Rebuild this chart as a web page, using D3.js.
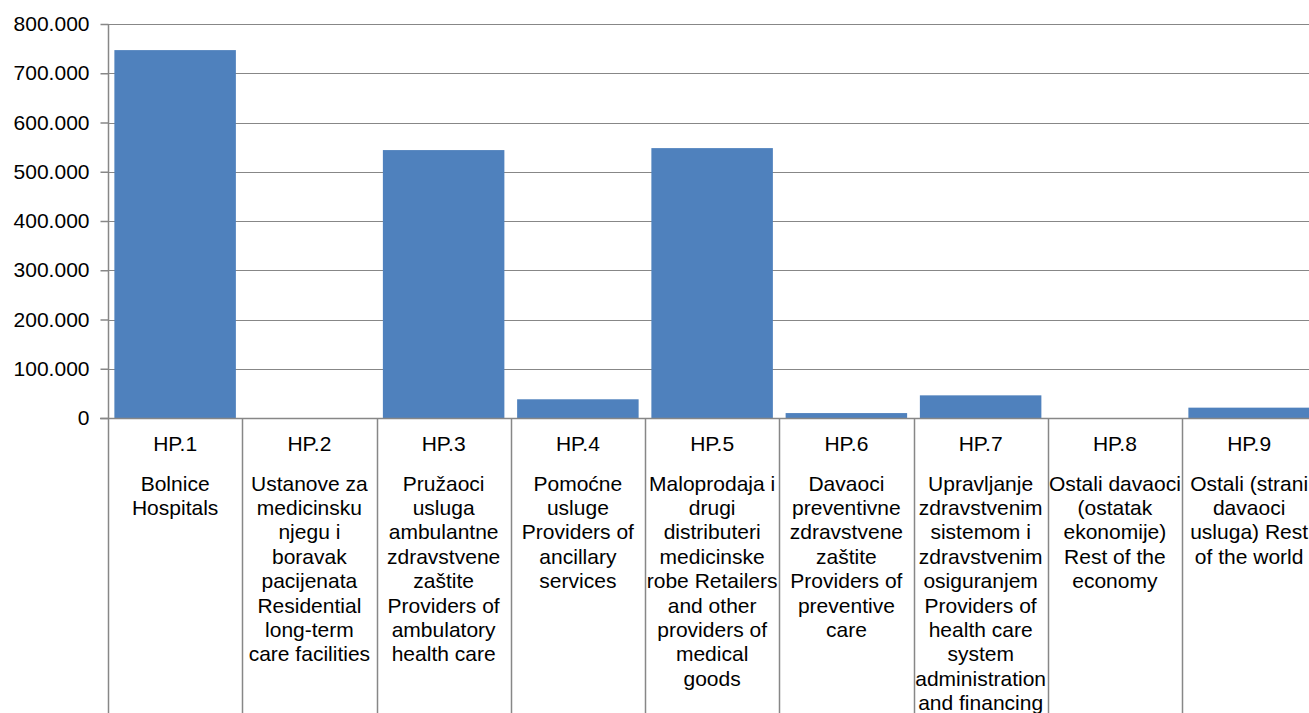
<!DOCTYPE html>
<html>
<head>
<meta charset="utf-8">
<script src="https://cdn.jsdelivr.net/npm/d3@7/dist/d3.min.js"></script>
<style>
  html, body { margin: 0; padding: 0; background: #fff; }
  svg { display: block; }
  text { font-family: "Liberation Sans", Arial, sans-serif; fill: #000; }
</style>
</head>
<body>
<svg id="chart" width="1309" height="713"></svg>
<script>
// ---- data ----
const codes = ["HP.1", "HP.2", "HP.3", "HP.4", "HP.5", "HP.6", "HP.7", "HP.8", "HP.9"];
const values = [747000, 0, 544000, 38000, 548000, 10000, 46000, 0, 21000];
const descriptions = [
  ["Bolnice", "Hospitals"],
  ["Ustanove za", "medicinsku", "njegu i", "boravak", "pacijenata", "Residential", "long-term", "care facilities"],
  ["Pružaoci", "usluga", "ambulantne", "zdravstvene", "zaštite", "Providers of", "ambulatory", "health care"],
  ["Pomoćne", "usluge", "Providers of", "ancillary", "services"],
  ["Maloprodaja i", "drugi", "distributeri", "medicinske", "robe Retailers", "and other", "providers of", "medical", "goods"],
  ["Davaoci", "preventivne", "zdravstvene", "zaštite", "Providers of", "preventive", "care"],
  ["Upravljanje", "zdravstvenim", "sistemom i", "zdravstvenim", "osiguranjem", "Providers of", "health care", "system", "administration", "and financing"],
  ["Ostali davaoci", "(ostatak", "ekonomije)", "Rest of the", "economy"],
  ["Ostali (strani", "davaoci", "usluga) Rest", "of the world"]
];
const yTicks = [0, 100000, 200000, 300000, 400000, 500000, 600000, 700000, 800000];

(function () {
// ---- layout ----
const W = 1309, H = 713;
const mLeft = 108, mTop = 24, zeroY = 418;
const bandW = 134.25;
const mRight = mLeft + bandW * codes.length;
const gridColor = "#878787";
const fontSize = 21;

const svg = d3.select("#chart");
const x = d3.scaleBand().domain(codes).range([mLeft, mRight]).paddingInner(0.095).paddingOuter(0.0475);
const xb = d3.scaleBand().domain(codes).range([mLeft, mRight]);
const y = d3.scaleLinear().domain([0, 800000]).range([zeroY, mTop]);

const loc = d3.formatLocale({decimal: ",", thousands: ".", grouping: [3], currency: ["", ""]});
const fmt = loc.format(",d");

// gridlines
svg.append("g").selectAll("line").data(yTicks.filter(d => d > 0)).join("line")
  .attr("x1", mLeft).attr("x2", W)
  .attr("y1", d => Math.round(y(d)) + 0.5).attr("y2", d => Math.round(y(d)) + 0.5)
  .attr("stroke", gridColor).attr("stroke-width", 1);

// bars
svg.append("g").selectAll("rect").data(codes).join("rect")
  .attr("x", (d) => x(d))
  .attr("width", x.bandwidth())
  .attr("y", (d, i) => y(values[i]))
  .attr("height", (d, i) => zeroY - y(values[i]))
  .attr("fill", "#4F81BD");

// y axis
const yAxis = d3.axisLeft(y).tickValues(yTicks).tickFormat(fmt).tickSize(8).tickPadding(11);
const ya = svg.append("g").attr("transform", `translate(${mLeft + 0.5},0)`).call(yAxis);
ya.select(".domain").remove();
ya.selectAll(".tick line").attr("stroke", gridColor).attr("stroke-width", 1.5);
ya.selectAll(".tick text").attr("font-size", fontSize).attr("fill", "#000")
  .style("font-family", '"Liberation Sans", Arial, sans-serif');

// vertical axis line extending down through label area
svg.append("line").attr("x1", mLeft + 0.5).attr("x2", mLeft + 0.5).attr("y1", mTop).attr("y2", H)
  .attr("stroke", gridColor).attr("stroke-width", 1.5);

// horizontal axis line
svg.append("line").attr("x1", mLeft - 8).attr("x2", W).attr("y1", zeroY + 0.5).attr("y2", zeroY + 0.5)
  .attr("stroke", gridColor).attr("stroke-width", 1.5);

// category dividers
svg.append("g").selectAll("line").data(codes.slice(1)).join("line")
  .attr("x1", d => Math.round(xb(d)) + 0.5).attr("x2", d => Math.round(xb(d)) + 0.5)
  .attr("y1", zeroY).attr("y2", H)
  .attr("stroke", gridColor).attr("stroke-width", 1.5);

// category labels
const lineH = 24.4;
const cat = svg.append("g").selectAll("g").data(codes).join("g")
  .attr("transform", d => `translate(${xb(d) + xb.bandwidth() / 2},0)`);
cat.append("text").attr("text-anchor", "middle").attr("font-size", fontSize)
  .attr("y", 443.5).attr("dy", "0.35em").text(d => d);
cat.each(function(d, i) {
  const t = d3.select(this).append("text").attr("text-anchor", "middle").attr("font-size", fontSize);
  descriptions[i].forEach((ln, k) => {
    t.append("tspan").attr("x", 0).attr("y", 483.3 + k * lineH).attr("dy", "0.35em").text(ln);
  });
});
})();
</script>
</body>
</html>
